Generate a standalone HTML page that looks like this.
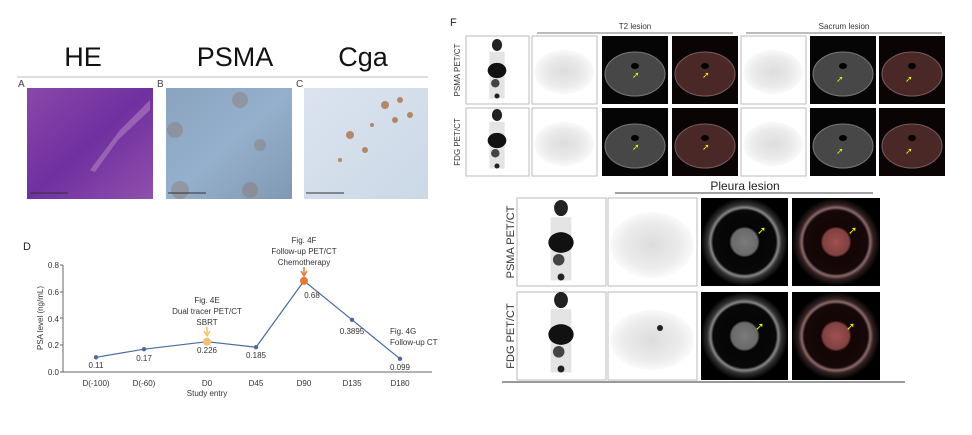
<!DOCTYPE html>
<html><head><meta charset="utf-8"><style>
html,body{margin:0;padding:0;background:#fff;}
svg{display:block;font-family:"Liberation Sans",Arial,sans-serif;}
</style></head><body>
<svg width="972" height="435" viewBox="0 0 972 435" xmlns="http://www.w3.org/2000/svg">
<defs>
<radialGradient id="pet" cx="50%" cy="50%" r="50%"><stop offset="0" stop-color="#dcdcdc"/><stop offset="0.7" stop-color="#ececec"/><stop offset="1" stop-color="#fafafa"/></radialGradient>
<radialGradient id="lung" cx="50%" cy="50%" r="50%"><stop offset="0" stop-color="#7a7a7a"/><stop offset="0.3" stop-color="#6a6a6a"/><stop offset="0.35" stop-color="#050505"/><stop offset="0.72" stop-color="#080808"/><stop offset="0.78" stop-color="#888"/><stop offset="0.85" stop-color="#333"/><stop offset="1" stop-color="#000"/></radialGradient>
<radialGradient id="lungf" cx="50%" cy="50%" r="50%"><stop offset="0" stop-color="#a05050"/><stop offset="0.3" stop-color="#804040"/><stop offset="0.35" stop-color="#150505"/><stop offset="0.72" stop-color="#150808"/><stop offset="0.78" stop-color="#8a6a6a"/><stop offset="0.85" stop-color="#332020"/><stop offset="1" stop-color="#000"/></radialGradient>
<linearGradient id="he" x1="0" y1="0" x2="1" y2="1"><stop offset="0" stop-color="#8a48a8"/><stop offset="0.5" stop-color="#7030a0"/><stop offset="1" stop-color="#9050ac"/></linearGradient>
<linearGradient id="psma" x1="0" y1="0" x2="1" y2="1"><stop offset="0" stop-color="#8aa4c0"/><stop offset="0.5" stop-color="#95b0cc"/><stop offset="1" stop-color="#8098b2"/></linearGradient>
<linearGradient id="cga" x1="0" y1="0" x2="1" y2="1"><stop offset="0" stop-color="#dbe4ef"/><stop offset="1" stop-color="#cbd8e6"/></linearGradient>
<g id="mip"><ellipse cx="0" cy="0" rx="6" ry="7" fill="#222"/><rect x="-9" y="8" width="18" height="55" fill="#e4e4e4"/><ellipse cx="0" cy="30" rx="11" ry="9" fill="#111"/><ellipse cx="-2" cy="45" rx="5" ry="5" fill="#444"/><circle cx="0" cy="60" r="3" fill="#222"/></g>
<g id="ct"><rect x="0" y="0" width="66" height="68" fill="#050505"/><ellipse cx="33" cy="38" rx="30" ry="22" fill="#474747" stroke="#777" stroke-width="1"/><ellipse cx="33" cy="30" rx="4" ry="3" fill="#000"/></g>
<g id="fus"><rect x="0" y="0" width="66" height="68" fill="#0a0404"/><ellipse cx="33" cy="38" rx="30" ry="22" fill="#4a2828" stroke="#7a5a5a" stroke-width="1"/><ellipse cx="33" cy="30" rx="4" ry="3" fill="#000"/></g>
</defs>

<!-- Histology -->
<text x="83" y="66" font-size="27" text-anchor="middle" fill="#111">HE</text>
<text x="235" y="66" font-size="27" text-anchor="middle" fill="#111">PSMA</text>
<text x="363" y="66" font-size="27" text-anchor="middle" fill="#111">Cga</text>
<line x1="17" y1="77" x2="428" y2="77" stroke="#bbb" stroke-width="1"/>
<text x="18" y="87" font-size="10" fill="#444">A</text>
<text x="157" y="87" font-size="10" fill="#444">B</text>
<text x="296" y="87" font-size="10" fill="#444">C</text>
<rect x="27" y="88" width="126" height="111" fill="url(#he)"/>
<path d="M90 170 L120 130 L150 100 L150 110 L118 140 L95 172Z" fill="#b080c0" opacity="0.6"/>
<rect x="166" y="88" width="126" height="111" fill="url(#psma)"/>
<g fill="#8a6a5a" opacity="0.35"><circle cx="175" cy="130" r="8"/><circle cx="240" cy="100" r="8"/><circle cx="180" cy="190" r="9"/><circle cx="250" cy="190" r="8"/><circle cx="260" cy="145" r="6"/></g>
<rect x="304" y="88" width="124" height="111" fill="url(#cga)"/>
<g fill="#a86a3e" opacity="0.75"><circle cx="350" cy="135" r="4"/><circle cx="385" cy="105" r="4"/><circle cx="395" cy="120" r="3"/><circle cx="365" cy="150" r="3"/><circle cx="340" cy="160" r="2"/><circle cx="410" cy="115" r="3"/><circle cx="372" cy="125" r="2"/><circle cx="400" cy="100" r="3"/></g>
<g stroke="#333" stroke-width="1"><line x1="30" y1="193" x2="68" y2="193"/><line x1="168" y1="193" x2="206" y2="193"/><line x1="306" y1="193" x2="344" y2="193"/></g>

<!-- Chart D -->
<text x="23" y="250" font-size="11" fill="#222">D</text>
<g font-size="8" fill="#333" text-anchor="end">
<text x="59" y="268">0.8</text><text x="59" y="295">0.6</text><text x="59" y="322">0.4</text><text x="59" y="348">0.2</text><text x="59" y="375">0.0</text>
</g>
<line x1="63" y1="265" x2="63" y2="372" stroke="#666"/>
<line x1="63" y1="372" x2="432" y2="372" stroke="#666"/>
<g stroke="#666"><line x1="60" y1="265" x2="63" y2="265"/><line x1="60" y1="292" x2="63" y2="292"/><line x1="60" y1="318" x2="63" y2="318"/><line x1="60" y1="345" x2="63" y2="345"/><line x1="60" y1="372" x2="63" y2="372"/></g>
<text transform="translate(43,318) rotate(-90)" font-size="8" fill="#333" text-anchor="middle">PSA level (ng/mL)</text>
<polyline points="96,357.3 144,349.2 207,341.7 256,347.2 304,280.9 352,319.8 400,358.8" fill="none" stroke="#4a6aa0" stroke-width="1.2"/>
<g fill="#4a6aa0"><circle cx="96" cy="357.3" r="2.2"/><circle cx="144" cy="349.2" r="2.2"/><circle cx="256" cy="347.2" r="2.2"/><circle cx="352" cy="319.8" r="2.2"/><circle cx="400" cy="358.8" r="2.2"/></g>
<circle cx="207" cy="341.7" r="4" fill="#f2c070"/>
<circle cx="304" cy="280.9" r="4" fill="#e47a3a"/>
<g font-size="8" fill="#333" text-anchor="middle">
<text x="96" y="368">0.11</text><text x="144" y="361">0.17</text><text x="207" y="353">0.226</text><text x="256" y="358">0.185</text><text x="312" y="298">0.68</text><text x="352" y="334">0.3895</text><text x="400" y="370">0.099</text>
<text x="96" y="386">D(-100)</text><text x="144" y="386">D(-60)</text><text x="207" y="386">D0</text><text x="256" y="386">D45</text><text x="304" y="386">D90</text><text x="352" y="386">D135</text><text x="400" y="386">D180</text>
<text x="207" y="396">Study entry</text>
<text x="207" y="303">Fig. 4E</text><text x="207" y="314">Dual tracer PET/CT</text><text x="207" y="325">SBRT</text>
<text x="304" y="243">Fig. 4F</text><text x="304" y="254">Follow-up PET/CT</text><text x="304" y="265">Chemotherapy</text>
</g>
<text x="390" y="334" font-size="8" fill="#333">Fig. 4G</text><text x="390" y="345" font-size="8" fill="#333">Follow-up CT</text>
<path d="M207 327 L207 334 M204 331 L207 336 L210 331" stroke="#f2c070" stroke-width="1.5" fill="none"/>
<path d="M304 267 L304 274 M301 271 L304 276 L307 271" stroke="#e47a3a" stroke-width="1.5" fill="none"/>

<!-- Panel F -->
<text x="450" y="26" font-size="11" fill="#222">F</text>
<line x1="537" y1="33" x2="733" y2="33" stroke="#777"/>
<line x1="746" y1="33" x2="942" y2="33" stroke="#777"/>
<text x="635" y="29" font-size="8" fill="#333" text-anchor="middle">T2 lesion</text>
<text x="844" y="29" font-size="8" fill="#333" text-anchor="middle">Sacrum lesion</text>
<text transform="translate(460,70) rotate(-90)" font-size="8" fill="#333" text-anchor="middle">PSMA PET/CT</text>
<text transform="translate(460,142) rotate(-90)" font-size="8" fill="#333" text-anchor="middle">FDG PET/CT</text>
<g stroke="#bbb" stroke-width="1">
<rect x="466" y="36" width="63" height="68" fill="#fff"/><rect x="466" y="108" width="63" height="68" fill="#fff"/>
<rect x="532" y="36" width="65" height="68" fill="#fff"/><rect x="532" y="108" width="65" height="68" fill="#fff"/>
<rect x="741" y="36" width="65" height="68" fill="#fff"/><rect x="741" y="108" width="65" height="68" fill="#fff"/>
</g>
<use href="#mip" transform="translate(497,45) scale(0.85)"/>
<use href="#mip" transform="translate(497,115) scale(0.85)"/>
<g fill="url(#pet)"><ellipse cx="564" cy="72" rx="30" ry="22"/><ellipse cx="564" cy="144" rx="30" ry="22"/><ellipse cx="773" cy="72" rx="30" ry="22"/><ellipse cx="773" cy="144" rx="30" ry="22"/></g>
<use href="#ct" x="602" y="36"/><use href="#ct" x="602" y="108"/>
<use href="#fus" x="672" y="36"/><use href="#fus" x="672" y="108"/>
<use href="#ct" x="810" y="36"/><use href="#ct" x="810" y="108"/>
<use href="#fus" x="879" y="36"/><use href="#fus" x="879" y="108"/>
<g fill="#ee0" font-size="9"><text x="632" y="78">➚</text><text x="702" y="78">➚</text><text x="632" y="150">➚</text><text x="702" y="150">➚</text><text x="836" y="82">➚</text><text x="905" y="82">➚</text><text x="836" y="154">➚</text><text x="905" y="154">➚</text></g>

<!-- Pleura -->
<text x="745" y="190" font-size="12" fill="#222" text-anchor="middle">Pleura lesion</text>
<line x1="615" y1="193" x2="873" y2="193" stroke="#444"/>
<text transform="translate(514,242) rotate(-90)" font-size="11" fill="#333" text-anchor="middle">PSMA PET/CT</text>
<text transform="translate(514,336) rotate(-90)" font-size="11" fill="#333" text-anchor="middle">FDG PET/CT</text>
<g stroke="#bbb"><rect x="517" y="198" width="89" height="88" fill="#fff"/><rect x="517" y="292" width="89" height="88" fill="#fff"/><rect x="608" y="198" width="89" height="88" fill="#fff"/><rect x="608" y="292" width="89" height="88" fill="#fff"/></g>
<use href="#mip" transform="translate(561,208) scale(1.15)"/>
<use href="#mip" transform="translate(561,300) scale(1.15)"/>
<ellipse cx="652" cy="245" rx="42" ry="33" fill="url(#pet)"/><ellipse cx="652" cy="340" rx="42" ry="30" fill="url(#pet)"/>
<circle cx="660" cy="328" r="3" fill="#222"/>
<rect x="701" y="198" width="87" height="88" fill="url(#lung)"/><rect x="701" y="292" width="87" height="88" fill="url(#lung)"/>
<rect x="792" y="198" width="88" height="88" fill="url(#lungf)"/><rect x="792" y="292" width="88" height="88" fill="url(#lungf)"/>
<g fill="#ee0" font-size="11"><text x="757" y="234">➚</text><text x="848" y="234">➚</text><text x="755" y="330">➚</text><text x="846" y="330">➚</text></g>
<line x1="502" y1="382" x2="905" y2="382" stroke="#999" stroke-width="2"/>
</svg>
</body></html>
